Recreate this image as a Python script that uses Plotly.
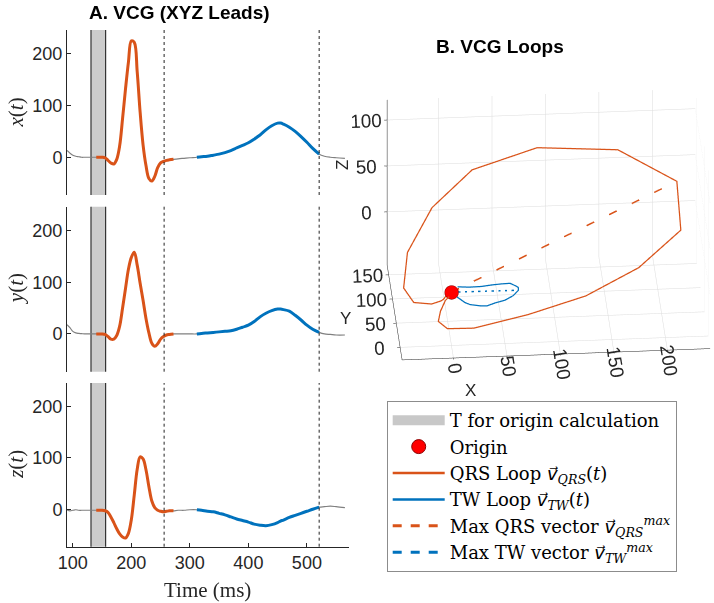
import plotly.graph_objects as go
import numpy as np

# ---------------- data ----------------
t_ms = [90, 95, 100, 105, 110, 115, 120, 130, 140, 145, 150, 155, 160, 165, 170, 175,
        180, 185, 190, 195, 200, 205, 210, 215, 220, 225, 230, 235, 240, 245, 250, 255,
        260, 265, 272, 280, 290, 300, 312, 320, 330, 340, 350, 360, 370, 380, 390, 400,
        410, 420, 430, 440, 450, 455, 460, 470, 480, 490, 500, 510, 521, 530, 540, 550, 565]

x_lead = [13, 8, 4, 2, 1, 0, 0, 0, 0, 0, 0, -1, -6, -11, -13, -4,
          22, 75, 132, 184, 225, 222, 165, 87, 24, -16, -41, -46, -37, -20, -11, -8,
          -6, -5, -4, -3, -2, -1, 0, 1, 2, 4, 6, 9, 13, 18, 23, 28,
          35, 43, 53, 61, 66, 66, 64, 58, 50, 40, 29, 17, 6, 2, 0, -1, -2]

y_lead = [18, 12, 5, 2, 1, 0.5, 0, 0, 0, 0, 0, -1, -5, -10, -10, -3,
          15, 50, 88, 125, 148, 158, 133, 98, 65, 30, 2, -18, -24, -19, -10, -5,
          -2, -1, 0, 0, 0, 0, 0, 1, 2, 3, 4, 5, 6, 9, 13, 17,
          24, 33, 40, 45, 48, 48, 47, 44, 36, 27, 17, 9, 3, 0, -1, -2, -2]

z_lead = [-1, -3, -2, -1, -2, -2, -2, -2, -2, -2, -2, -3, -6, -15, -26, -38,
          -48, -54, -56, -47, -20, 28, 78, 102, 98, 77, 44, 16, 3, -2, -4, -5,
          -4, -3, -3, -2, -2, -1, -1, -2, -4, -5, -8, -11, -15, -19, -22, -25,
          -29, -31, -32, -30, -26, -23, -21, -16, -12, -8, -4, 0, 4, 5, 6, 5, 3]

qrs_window = [140, 272]        # ms, QRS segment (orange)
tw_window = [312, 521]         # ms, T-wave segment (blue)
origin_window = [131, 156]     # ms, grey band used for origin calculation
boundary_times = [256, 521]    # ms, dashed vertical markers
origin_point = [0, 0, 0]

lead_names = ["x", "y", "z"]
time_ticks = [100, 200, 300, 400, 500]
amp_ticks = [0, 100, 200]
loop_ticks_x = [0, 50, 100, 150, 200]
loop_ticks_y = [0, 50, 100, 150]
loop_ticks_z = [0, 50, 100]

# ---------------- styles / geometry ----------------
ORANGE = "#D95319"
BLUE = "#0072BD"
GREY = "#808080"
AX = "#262626"
SANS = "Liberation Sans, Arial, sans-serif"
SERIF = "Liberation Serif, Times New Roman, serif"
LEGSERIF = "DejaVu Serif, serif"
W, H = 714, 603


def px(p):
    return p / W


def py(p):
    return 1 - p / H


VEC = '<span style="font-family:DejaVu Sans"><i>v⃗</i></span>'

t = np.array(t_ms, dtype=float)
leads = [np.array(x_lead, float), np.array(y_lead, float), np.array(z_lead, float)]
qrs = (t >= qrs_window[0]) & (t <= qrs_window[1])
tw = (t >= tw_window[0]) & (t <= tw_window[1])

fig = go.Figure()

panel_px = [(30, 195), (206.7, 371.7), (383, 546.7)]
x_dom = [px(67), px(349)]
yr = [-73, 246]

for i, lead in enumerate(leads):
    xa = "x" if i == 0 else f"x{i+1}"
    ya = "y" if i == 0 else f"y{i+1}"
    fig.add_trace(go.Scatter(x=t, y=lead, mode="lines", line=dict(color=GREY, width=1.2, shape="spline"),
                             xaxis=xa, yaxis=ya, showlegend=False, hoverinfo="skip"))
    fig.add_trace(go.Scatter(x=t[qrs], y=lead[qrs], mode="lines", line=dict(color=ORANGE, width=3, shape="spline"),
                             xaxis=xa, yaxis=ya, showlegend=False))
    fig.add_trace(go.Scatter(x=t[tw], y=lead[tw], mode="lines", line=dict(color=BLUE, width=3, shape="spline"),
                             xaxis=xa, yaxis=ya, showlegend=False))
    fig.add_shape(type="rect", xref=xa, yref=f"{ya} domain", x0=origin_window[0], x1=origin_window[1],
                  y0=0, y1=1, fillcolor="#cccccc", line=dict(width=0), layer="below")
    for ow in origin_window:
        fig.add_shape(type="line", xref=xa, yref=f"{ya} domain", x0=ow, x1=ow, y0=0, y1=1,
                      line=dict(color="#333333", width=1.2), layer="below")
    for bt in boundary_times:
        fig.add_shape(type="line", xref=xa, yref=f"{ya} domain", x0=bt, x1=bt, y0=0, y1=1,
                      line=dict(color="#222222", width=1, dash="3px,3px"))
    top, bot = panel_px[i]
    last = i == 2
    fig.layout[("xaxis" if i == 0 else f"xaxis{i+1}")] = dict(
        domain=x_dom, anchor=ya, range=[90, 572], visible=last,
        tickvals=time_ticks, ticks="inside", ticklen=4, tickcolor=AX,
        showline=True, linecolor=AX, linewidth=1, showgrid=False, zeroline=False,
        tickfont=dict(family=SANS, size=18, color=AX), automargin=False)
    fig.layout[("yaxis" if i == 0 else f"yaxis{i+1}")] = dict(
        domain=[py(bot), py(top)], anchor=xa, range=yr, tickvals=amp_ticks,
        ticks="inside", ticklen=4, tickcolor=AX, showline=True, linecolor=AX, linewidth=1,
        showgrid=False, zeroline=False, tickfont=dict(family=SANS, size=18, color=AX), automargin=False)
    fig.add_annotation(text=f"<i>{lead_names[i]}</i>(<i>t</i>)", xref="paper", yref="paper",
                       x=px(16), y=py((top + bot) / 2), textangle=-90, showarrow=False,
                       font=dict(family=SERIF, size=21, color=AX), xanchor="center", yanchor="middle")

# ---------------- 3D loops ----------------
vx, vy, vz = leads
mag = np.sqrt(vx ** 2 + vy ** 2 + vz ** 2)
iq = np.where(qrs)[0][np.argmax(mag[qrs])]
it = np.where(tw)[0][np.argmax(mag[tw])]

fig.add_trace(go.Scatter3d(x=vx[qrs], y=vy[qrs], z=vz[qrs], mode="lines",
                           line=dict(color=ORANGE, width=2.5), showlegend=False, scene="scene"))
fig.add_trace(go.Scatter3d(x=vx[tw], y=vy[tw], z=vz[tw], mode="lines",
                           line=dict(color=BLUE, width=2.5), showlegend=False, scene="scene"))
fig.add_trace(go.Scatter3d(x=[origin_point[0], vx[iq]], y=[origin_point[1], vy[iq]], z=[origin_point[2], vz[iq]],
                           mode="lines", line=dict(color=ORANGE, width=3, dash="longdash"), showlegend=False, scene="scene"))
fig.add_trace(go.Scatter3d(x=[origin_point[0], vx[it]], y=[origin_point[1], vy[it]], z=[origin_point[2], vz[it]],
                           mode="lines", line=dict(color=BLUE, width=3, dash="longdash"), showlegend=False, scene="scene"))
fig.add_trace(go.Scatter3d(x=[origin_point[0]], y=[origin_point[1]], z=[origin_point[2]], mode="markers",
                           marker=dict(color="#ff0000", size=8, line=dict(color="#8b0000", width=1)),
                           showlegend=False, scene="scene"))

# ---------------- legend entries ----------------
fig.add_trace(go.Scatter(x=[None], y=[None], mode="lines", line=dict(color="#c8c8c8", width=13),
                         name="T for origin calculation", xaxis="x3", yaxis="y3"))
fig.add_trace(go.Scatter(x=[None], y=[None], mode="markers",
                         marker=dict(color="#ff0000", size=14, line=dict(color="#8b0000", width=1)),
                         name="Origin", xaxis="x3", yaxis="y3"))
fig.add_trace(go.Scatter(x=[None], y=[None], mode="lines", line=dict(color=ORANGE, width=2.5),
                         name=f"QRS Loop {VEC}<sub><i>QRS</i></sub>(<i>t</i>)", xaxis="x3", yaxis="y3"))
fig.add_trace(go.Scatter(x=[None], y=[None], mode="lines", line=dict(color=BLUE, width=2.5),
                         name=f"TW Loop {VEC}<sub><i>TW</i></sub>(<i>t</i>)", xaxis="x3", yaxis="y3"))
fig.add_trace(go.Scatter(x=[None], y=[None], mode="lines", line=dict(color=ORANGE, width=3, dash="dash"),
                         name=f"Max QRS vector {VEC}<sub><i>QRS</i></sub><sup><i>max</i></sup>", xaxis="x3", yaxis="y3"))
fig.add_trace(go.Scatter(x=[None], y=[None], mode="lines", line=dict(color=BLUE, width=3, dash="dash"),
                         name=f"Max TW vector {VEC}<sub><i>TW</i></sub><sup><i>max</i></sup>", xaxis="x3", yaxis="y3"))

ax3 = dict(showbackground=False, gridcolor="#dcdcdc", gridwidth=1, showline=True, linecolor=AX,
           linewidth=1, ticks="outside", ticklen=3, tickcolor=AX, zeroline=False, showspikes=False,
           tickfont=dict(family=SANS, size=15, color=AX), title=dict(text=""))

fig.update_layout(
    width=W, height=H, margin=dict(l=0, r=0, t=0, b=0),
    paper_bgcolor="white", plot_bgcolor="white",
    scene=dict(
        domain=dict(x=[px(340), 1.0], y=[py(392), py(58)]),
        xaxis=dict(ax3, range=[-48, 240], tickvals=loop_ticks_x),
        yaxis=dict(ax3, range=[-26, 170], tickvals=loop_ticks_y),
        zaxis=dict(ax3, range=[-58, 122], tickvals=loop_ticks_z),
        aspectmode="manual", aspectratio=dict(x=1.85, y=1.18, z=1.13),
        camera=dict(projection=dict(type="orthographic"), up=dict(x=0, y=0, z=1),
                    center=dict(x=-0.13, y=0, z=0), eye=dict(x=-0.21, y=-1.05, z=0.58)),
    ),
    legend=dict(x=px(386.7), y=py(401), xanchor="left", yanchor="top", bgcolor="white",
                bordercolor="#8c8c8c", borderwidth=1, font=dict(family=LEGSERIF, size=18, color="black"),
                itemwidth=52, tracegroupgap=0),
    showlegend=True,
)

fig.add_annotation(text="<b>A. VCG (XYZ Leads)</b>", xref="paper", yref="paper", x=px(179), y=py(12),
                   xanchor="center", yanchor="middle", showarrow=False,
                   font=dict(family=SANS, size=19, color="black"))
fig.add_annotation(text="<b>B. VCG Loops</b>", xref="paper", yref="paper", x=px(500), y=py(47),
                   xanchor="center", yanchor="middle", showarrow=False,
                   font=dict(family=SANS, size=19, color="black"))
fig.add_annotation(text="Time (ms)", xref="paper", yref="paper", x=px(207.5), y=py(590),
                   xanchor="center", yanchor="middle", showarrow=False,
                   font=dict(family=SERIF, size=21, color=AX))
# 3D axis titles
for txt, (ax_, ay_), ang in [("X", (470, 390), 0), ("Y", (345, 318), 0), ("Z", (343, 165), -90)]:
    fig.add_annotation(text=txt, xref="paper", yref="paper", x=px(ax_), y=py(ay_),
                       xanchor="center", yanchor="middle", showarrow=False, textangle=ang,
                       font=dict(family=SANS, size=17, color=AX))

fig.write_html("out.html", post_script="document.body.style.margin='0px';",
               config={"displayModeBar": False})
